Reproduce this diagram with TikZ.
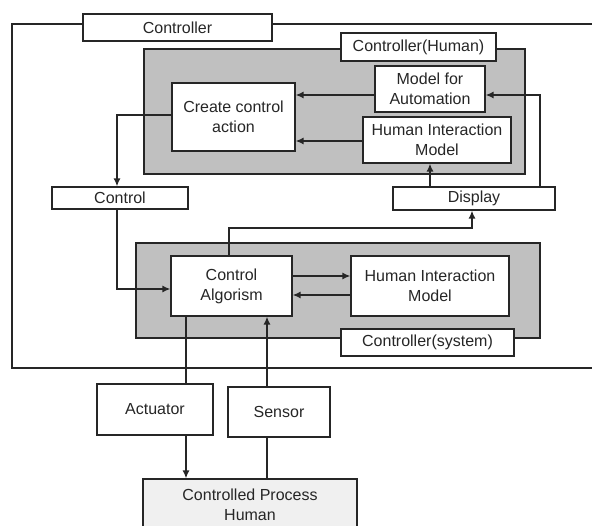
\documentclass[tikz,border=0pt]{standalone}
\usepackage{fontspec}
\setmainfont{Liberation Sans}
\usetikzlibrary{arrows.meta}
\definecolor{ink}{HTML}{262626}
\definecolor{panel}{HTML}{C0C0C0}
\definecolor{procfill}{HTML}{F0F0F0}
\tikzset{
  box/.style={draw=ink, line width=1.1pt, fill=white, inner sep=0pt, align=center,
    text=ink, font=\fontsize{16}{20}\selectfont},
  panelbox/.style={draw=ink, line width=1.1pt, fill=panel},
  conn/.style={draw=ink, line width=1.6pt},
  arr/.style={conn, -{Latex[length=8pt,width=7pt]}},
}
\begin{document}
\begin{tikzpicture}[x=1pt,y=-1pt]
\useasboundingbox (0,0) rectangle (592,526);
% outer controller frame (open to the right)
\draw[ink, line width=1.1pt] (593,24) -- (12,24) -- (12,368) -- (593,368);
\node[box, minimum width=189pt, minimum height=27pt] (ctrlLabel) at (177.5,27.5) {Controller};

% human controller panel
\draw[panelbox] (144,49) rectangle (525,174);
\node[box, minimum width=155pt, minimum height=28pt] (humanLabel) at (418.5,47) {Controller(Human)};
\node[box, minimum width=110pt, minimum height=46pt] (mfa) at (430,89) {Model for\\Automation};
\node[box, minimum width=123pt, minimum height=68pt] (cca) at (233.5,117) {Create control\\action};
\node[box, minimum width=148pt, minimum height=46pt] (him1) at (437,140) {Human Interaction\\Model};

% middle boxes
\node[box, minimum width=136pt, minimum height=22pt] (control) at (120,198) {Control};
\node[box, minimum width=162pt, minimum height=23pt] (display) at (474,198.5) {Display};

% system controller panel
\draw[panelbox] (136,243) rectangle (540,338);
\node[box, minimum width=121pt, minimum height=60pt] (ca) at (231.5,286) {Control\\Algorism};
\node[box, minimum width=158pt, minimum height=60pt] (him2) at (430,286) {Human Interaction\\Model};
\node[box, minimum width=173pt, minimum height=27pt] (sysLabel) at (427.5,342.5) {Controller(system)};

% actuator / sensor / process
\node[box, minimum width=116pt, minimum height=51pt] (act) at (155,409.5) {Actuator};
\node[box, minimum width=102pt, minimum height=50pt] (sen) at (279,412) {Sensor};
\node[box, fill=procfill, minimum width=214pt, minimum height=52pt] (cp) at (250,505) {Controlled Process\\Human};

% helper coordinates
\coordinate (yA) at (0,95);
\coordinate (yB) at (0,141);
\coordinate (yC) at (0,115);
\coordinate (xL) at (117,0);
\coordinate (yD) at (0,289);
\coordinate (xU) at (229,0);
\coordinate (yE) at (0,228);
\coordinate (xD) at (472,0);
\coordinate (xH) at (430,0);
\coordinate (xR) at (540,0);
\coordinate (yF) at (0,276);
\coordinate (yG) at (0,295);
\coordinate (xAct) at (186,0);
\coordinate (xSen) at (267,0);

% connectors
\draw[arr] (mfa.west |- yA) -- (cca.east |- yA);
\draw[arr] (him1.west |- yB) -- (cca.east |- yB);
\draw[arr] (cca.west |- yC) -| (control.north -| xL);
\draw[arr] (control.south -| xL) |- (ca.west |- yD);
\draw[arr] (ca.north -| xU) |- (xD |- yE) -- (display.south -| xD);
\draw[arr] (display.north -| xH) -- (him1.south -| xH);
\draw[arr] (display.north -| xR) |- (mfa.east |- yA);
\draw[arr] (ca.east |- yF) -- (him2.west |- yF);
\draw[arr] (him2.west |- yG) -- (ca.east |- yG);
\draw[conn] (ca.south -| xAct) -- (act.north -| xAct);
\draw[arr] (act.south -| xAct) -- (cp.north -| xAct);
\draw[conn] (cp.north -| xSen) -- (sen.south -| xSen);
\draw[arr] (sen.north -| xSen) -- (ca.south -| xSen);
\end{tikzpicture}
\end{document}
